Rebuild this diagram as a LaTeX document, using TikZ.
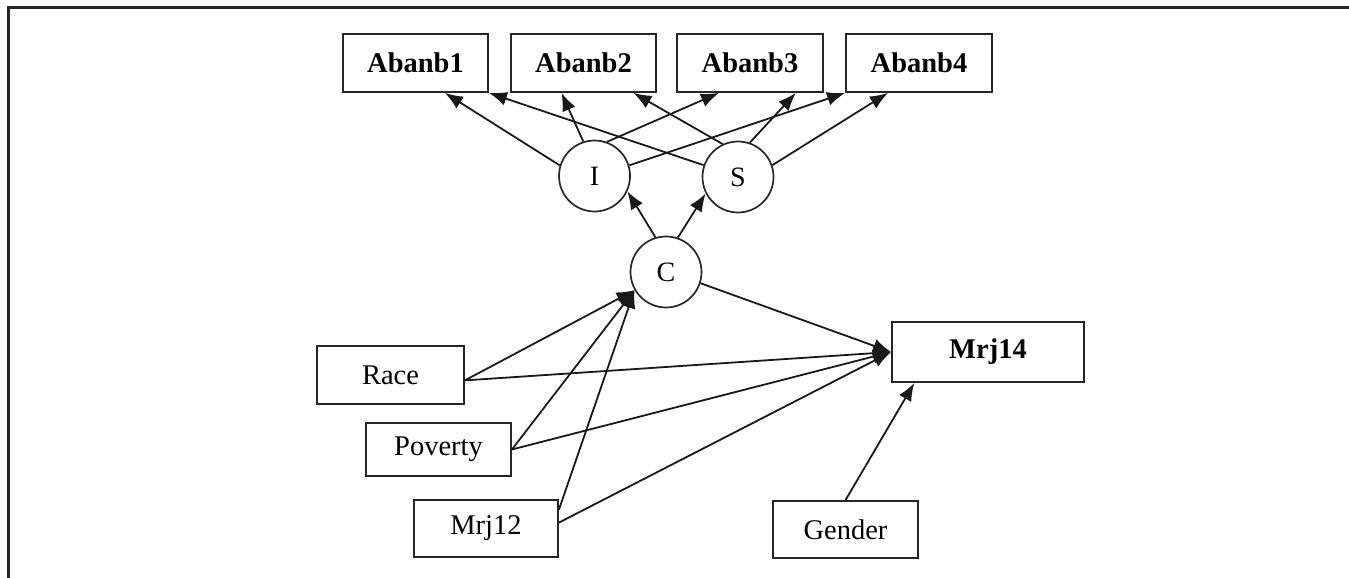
\documentclass[tikz,border=0pt]{standalone}
\usepackage{fontspec}
\setmainfont{Liberation Serif}
\usetikzlibrary{arrows.meta,calc}
\begin{document}
\begin{tikzpicture}[x=1pt,y=-1pt,
  box/.style={draw=black!85, line width=1.8pt, rectangle, inner sep=0pt,
    font=\fontsize{28.5}{34}\selectfont},
  bbox/.style={box, font=\fontsize{28.5}{34}\selectfont\bfseries},
  lat/.style={draw=black!85, circle, line width=1.7pt, minimum size=71pt, inner sep=0pt,
    font=\fontsize{28}{34}\selectfont},
  arr/.style={draw=black!90, line width=1.8pt, -{Latex[length=18pt,width=14pt]}}]
\useasboundingbox (0,0) rectangle (1349,578);
\draw[line width=3pt, black!85] (8,578) -- (8,8) -- (1349,8);

% top indicator boxes
\node[bbox, minimum width=145pt, minimum height=58pt] (A1) at (415.5,63) {Abanb1};
\node[bbox, minimum width=145pt, minimum height=58pt] (A2) at (583.5,63) {Abanb2};
\node[bbox, minimum width=146pt, minimum height=58pt] (A3) at (750,63) {Abanb3};
\node[bbox, minimum width=146pt, minimum height=58pt] (A4) at (919,63) {Abanb4};

% latent variables
\node[lat] (I) at (594.5,176) {I};
\node[lat] (S) at (738,177) {S};
\node[lat] (C) at (666,272) {C};

% outcome and covariates
\node[bbox, minimum width=192pt, minimum height=60pt] (M14) at (988,352) {Mrj14};
\node[box, minimum width=147pt, minimum height=58pt] (Race) at (390.5,375) {Race};
\node[box, minimum width=145pt, minimum height=53pt] (Pov) at (438.5,449.5) {Poverty};
\node[box, minimum width=144pt, minimum height=57pt] (M12) at (486,528.5) {Mrj12};
\node[box, minimum width=145pt, minimum height=57pt] (Gen) at (845.5,529.5) {Gender};

% I loadings
\draw[arr] (I.163) -- ($(A1.south west)!0.70!(A1.south east)$);
\draw[arr] (I.108) -- ($(A2.south west)!0.35!(A2.south east)$);
\draw[arr] (I.70)  -- ($(A3.south west)!0.29!(A3.south east)$);
\draw[arr] (I.17)  -- (A4.south west);
% S loadings
\draw[arr] (S.161) -- (A1.south east);
\draw[arr] (S.115) -- ($(A2.south west)!0.84!(A2.south east)$);
\draw[arr] (S.71)  -- ($(A3.south west)!0.81!(A3.south east)$);
\draw[arr] (S.19)  -- ($(A4.south west)!0.29!(A4.south east)$);

% C to growth factors
\draw[arr] (C.107) -- (I.-25);
\draw[arr] (C.71) -- (S.207);

% covariates to C
\draw[arr] ($(Race.north east)!0.59!(Race.south east)$) -- (C.210);
\draw[arr] (Pov.east) -- (C.210);
\draw[arr] ($(M12.north east)!0.18!(M12.south east)$) -- (C.210);

% to Mrj14
\draw[arr] (C.-18) -- (M14.west);
\draw[arr] ($(Race.north east)!0.59!(Race.south east)$) -- (M14.west);
\draw[arr] (Pov.east) -- (M14.west);
\draw[arr] ($(M12.north east)!0.40!(M12.south east)$) -- (M14.west);
\draw[arr] (Gen.north) -- ($(M14.south west)!0.12!(M14.south east)$);
\end{tikzpicture}
\end{document}
